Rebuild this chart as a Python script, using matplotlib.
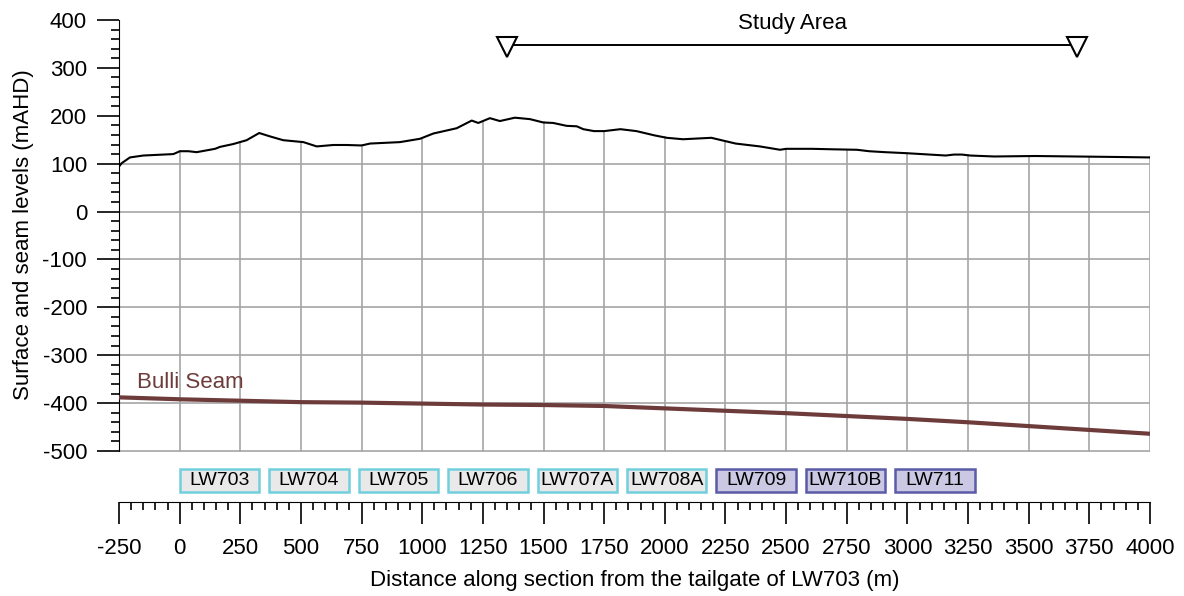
import numpy as np
import matplotlib
matplotlib.use("Agg")
import matplotlib.pyplot as plt
from matplotlib.patches import Rectangle
from matplotlib.ticker import MultipleLocator

plt.rcParams['font.family'] = ['Liberation Sans', 'DejaVu Sans']
plt.rcParams['axes.unicode_minus'] = False

# Surface profile (distance m, level mAHD)
surf_x = [-250, -239, -205, -150, -26, 1, 36, 70, 146, 166, 221, 276, 328, 372, 427,
          510, 565, 633, 689, 750, 785, 908, 991, 1046, 1142, 1204, 1231, 1279, 1320,
          1382, 1444, 1499, 1540, 1595, 1637, 1664, 1708, 1750, 1817, 1883, 1958, 2008,
          2075, 2192, 2225, 2292, 2392, 2475, 2500, 2608, 2692, 2792, 2842, 2908, 2992,
          3092, 3158, 3192, 3225, 3258, 3358, 3525, 3692, 3858, 4000]
surf_y = [94, 101, 113, 117, 120, 126, 126, 124, 131, 135, 141, 149, 164, 157, 149,
          145, 136, 139, 139, 138, 142, 145, 152, 163, 174, 190, 185, 195, 189,
          196, 193, 186, 185, 179, 178, 172, 168, 168, 172, 168, 159, 154,
          151, 154, 150, 142, 136, 129, 131, 131, 130, 129, 126, 124, 122,
          119, 117, 119, 119, 117, 115, 116, 115, 114, 113]

# Bulli Seam floor
seam_x = [-250, 0, 250, 500, 750, 1000, 1250, 1500, 1750, 2000, 2250, 2500, 2750,
          3000, 3250, 3500, 3750, 4000]
seam_y = [-388, -392, -395, -398, -399, -401, -403, -404, -406, -411, -416, -421,
          -427, -433, -440, -448, -456, -464]

# Longwall panels
lw_names = ["LW703", "LW704", "LW705", "LW706", "LW707A", "LW708A", "LW709", "LW710B", "LW711"]
lw_start = [0, 370, 738, 1107, 1476, 1845, 2213, 2582, 2950]
lw_end = [328, 697, 1065, 1435, 1804, 2170, 2542, 2908, 3280]
lw_future = [False, False, False, False, False, False, True, True, True]

study_x = [1350, 3700]
study_level = 348

fig = plt.figure(figsize=(11.84, 5.96), dpi=100)
ax = fig.add_axes([119 / 1184, 94 / 596, 1031 / 1184, 482 / 596])
ax.set_xlim(-250, 4000)
ax.set_ylim(-606.5, 400)

grid_c = '#a6a6a6'
# grid only below ground surface
for gx in np.arange(0, 4001, 250):
    top = np.interp(gx, surf_x, surf_y)
    ax.plot([gx, gx], [-500, top], color=grid_c, lw=1.2, zorder=1)
for gy in np.arange(-500, 101, 100):
    ax.plot([-250, 4000], [gy, gy], color=grid_c, lw=1.2, zorder=1)

ax.plot(surf_x, surf_y, color='black', lw=1.5, zorder=3)
ax.plot(seam_x, seam_y, color='#6e3b3b', lw=3, zorder=3)
ax.text(-176, -357, "Bulli Seam", color='#6e3b3b', fontsize=16, va='center', ha='left')

# study area
ax.plot(study_x, [study_level, study_level], color='black', lw=1.4, zorder=3)
ax.plot(study_x, [study_level - 4, study_level - 4], ls='none', marker='v', ms=14,
        mfc='white', mec='black', mew=1.5, zorder=4)
ax.text(np.mean(study_x), 392, "Study Area", fontsize=16, ha='center', va='center')

# panel labels
box_h = 48
box_y = -562.5
for name, s, e, fut in zip(lw_names, lw_start, lw_end, lw_future):
    fc = '#cbc8e4' if fut else '#e9e9e9'
    ec = '#5b5ba8' if fut else '#72cfdc'
    ax.add_patch(Rectangle((s, box_y - box_h / 2), e - s, box_h, facecolor=fc,
                           edgecolor=ec, lw=1.8, zorder=3))
    ax.text((s + e) / 2, box_y, name, fontsize=14, ha='center', va='center', zorder=4)

for sp in ['top', 'right']:
    ax.spines[sp].set_visible(False)
ax.spines['left'].set_bounds(-500, 400)
ax.spines['bottom'].set_bounds(-250, 4000)

ax.set_yticks(np.arange(-500, 401, 100))
ax.set_yticks(np.arange(-500, 401, 20), minor=True)
ax.xaxis.set_major_locator(MultipleLocator(250))
ax.xaxis.set_minor_locator(MultipleLocator(50))
ax.tick_params(axis='both', which='major', length=16, width=1.2, labelsize=16, direction='out')
ax.tick_params(axis='both', which='minor', length=6, width=1.2, direction='out')
ax.tick_params(axis='x', which='major', pad=10)
ax.tick_params(axis='y', which='major', pad=7)

ax.set_xlabel("Distance along section from the tailgate of LW703 (m)", fontsize=16, labelpad=8)
ax.set_ylabel("Surface and seam levels (mAHD)", fontsize=16)
ax.yaxis.set_label_coords(-0.082, 1 - (235 - 20) / 482, transform=ax.transAxes)

fig.savefig("out.png", dpi=100)
